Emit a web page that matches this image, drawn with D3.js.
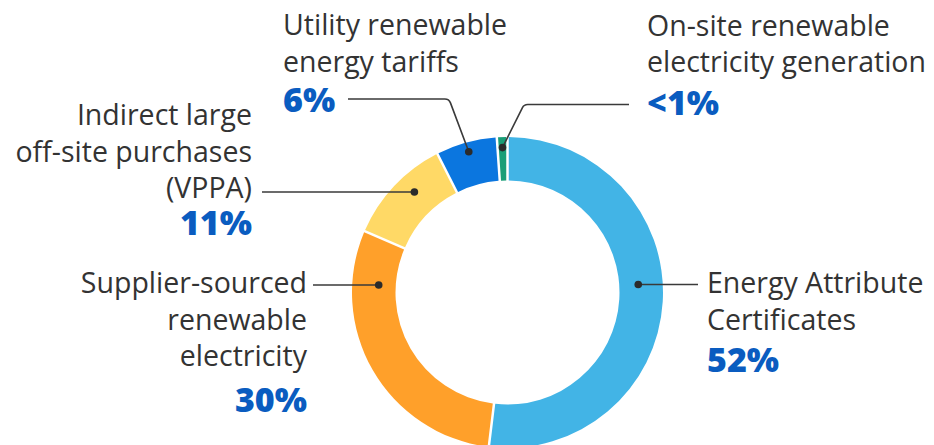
<!DOCTYPE html>
<html>
<head>
<meta charset="utf-8">
<script src="https://cdn.jsdelivr.net/npm/d3@7"></script>
<style>
body{margin:0;background:#fff;}
text{font-family:"Open Sans","Noto Sans",sans-serif;}
</style>
</head>
<body>
<div id="chart"></div>
<script>
// dane
var categories = ["Energy Attribute Certificates", "Supplier-sourced renewable electricity", "Indirect large off-site purchases (VPPA)", "Utility renewable energy tariffs", "On-site renewable electricity generation"];
var shares = [52.2, 29.6, 11.0, 6.2, 0.9];
var shareLabels = ["52%", "30%", "11%", "6%", "<1%"];
var labelLines = [
	["Energy Attribute", "Certificates"],
	["Supplier-sourced", "renewable", "electricity"],
	["Indirect large", "off-site purchases", "(VPPA)"],
	["Utility renewable", "energy tariffs"],
	["On-site renewable", "electricity generation"]
];
var colors = ["#42b4e6", "#ffa02a", "#ffd966", "#0b76df", "#1a9e77"];

// uklad etykiet (pozycje), osobno od danych
var layout = [
	{anchor: "start", x: 707, y0: 293, pctY: 372, lineY: 284.5, lineX: 698, dotR: 131, side: 1},
	{anchor: "end", x: 307, y0: 293, pctY: 412, lineY: 285, lineX: 313, dotR: 129, side: -1},
	{anchor: "end", x: 252, y0: 125, pctY: 235, lineY: 192, lineX: 262, dotR: 137, side: -1},
	{anchor: "start", x: 283, y0: 35, pctY: 111.5, lineY: 99, lineX: 348, cornerX: 447, dotR: 146},
	{anchor: "start", x: 647, y0: 35.5, pctY: 115, lineY: 104.5, lineX: 629, cornerX: 526, dotR: 145}
];

var W = 934, H = 445;
var cx = 507.5, cy = 292.5;
var rOut = 155.5, rIn = 112;
var lineH = 36.5;

var svg = d3.select("#chart")
	.append("svg")
	.attr("width", W)
	.attr("height", H);

var data = categories.map((c, i) => ({name: c, value: shares[i], i: i}));

var pie = d3.pie()
	.sort(null)
	.value(d => d.value)
	.startAngle(0)
	.endAngle(2 * Math.PI)
	.padAngle(0.013);

var arc = d3.arc().innerRadius(rIn).outerRadius(rOut);

var arcs = pie(data);

var g = svg.append("g").attr("transform", "translate(" + cx + "," + cy + ")");

g.selectAll("path.slice")
	.data(arcs)
	.enter()
	.append("path")
	.attr("class", "slice")
	.attr("d", arc)
	.attr("fill", d => colors[d.data.i]);

// kropki + linie
arcs.forEach(function(a) {
	var i = a.data.i;
	var L = layout[i];
	var dx, dy;
	if (L.cornerX === undefined) {
		// kropka na pierscieniu na wysokosci linii
		dy = L.lineY - cy;
		dx = L.side * Math.sqrt(L.dotR * L.dotR - dy * dy);
	} else {
		var ang = (a.startAngle + a.endAngle) / 2;
		dx = L.dotR * Math.sin(ang);
		dy = -L.dotR * Math.cos(ang);
	}
	var px = cx + dx, py = cy + dy;

	var p = d3.path();
	if (L.cornerX === undefined) {
		p.moveTo(L.lineX, L.lineY);
		p.lineTo(px, py);
	} else {
		p.moveTo(L.lineX, L.lineY);
		p.arcTo(L.cornerX + (L.cornerX < L.lineX ? -1 : 1) * 2, L.lineY, px, py, 6);
		p.lineTo(px, py);
	}
	svg.append("path")
		.attr("d", p.toString())
		.attr("fill", "none")
		.attr("stroke", "#3a3a3a")
		.attr("stroke-width", 1.6);

	svg.append("circle")
		.attr("cx", px)
		.attr("cy", py)
		.attr("r", 3.8)
		.attr("fill", "#2b2b2b");
});

// teksty
var labels = svg.selectAll("g.lab")
	.data(arcs)
	.enter()
	.append("g")
	.attr("class", "lab");

labels.each(function(d) {
	var i = d.data.i;
	var L = layout[i];
	var el = d3.select(this);
	labelLines[i].forEach(function(t, k) {
		el.append("text")
			.attr("x", L.x)
			.attr("y", L.y0 + k * lineH)
			.attr("text-anchor", L.anchor)
			.attr("fill", "#333333")
			.style("font-size", "28.5px")
			.text(t);
	});
	el.append("text")
		.attr("x", L.x)
		.attr("y", L.pctY)
		.attr("text-anchor", L.anchor)
		.attr("fill", "#0a5cc0")
		.style("font-size", "34px")
		.style("font-weight", "800")
		.text(shareLabels[i]);
});
</script>
</body>
</html>
